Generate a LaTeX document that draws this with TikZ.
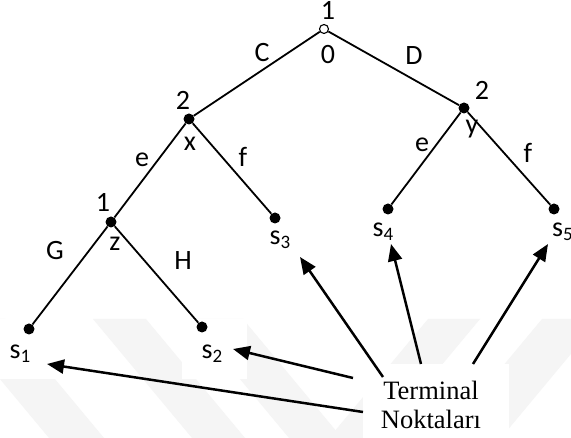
\documentclass[tikz,border=0pt]{standalone}
\usepackage{fontspec}
\setmainfont{Carlito}
\newfontfamily\tnrfont{Liberation Serif}
\usetikzlibrary{arrows.meta}
\newcommand\ssub[1]{\raisebox{-4pt}{\fontsize{19}{19}\selectfont #1}}
\begin{document}
\begin{tikzpicture}[x=1pt,y=-1pt,
  dot/.style={circle,fill=black,inner sep=0pt,minimum size=11pt},
  odot/.style={circle,draw=black,fill=white,line width=1.1pt,inner sep=0pt,minimum size=9pt},
  treeedge/.style={line width=1.8pt},
  lab/.style={font=\fontsize{28}{28}\selectfont,inner sep=0pt},
  arr/.style={line width=2.5pt,-{Triangle[length=17pt,width=14pt]}},
  wm/.style={fill=black!4,draw=none},
  wbox/.style={fill=white,draw=none}]
\useasboundingbox (0,0) rectangle (571,438);
\fill[white] (0,0) rectangle (571,438);
% watermark bands
\fill[wm] (93,319) -- (146,319) -- (245,438) -- (192,438) -- cycle;
\fill[wm] (190,319) -- (243,319) -- (342,438) -- (289,438) -- cycle;
\fill[wm] (-50,319) -- (5,319) -- (104,438) -- (49,438) -- cycle;
\fill[wm] (428,319) -- (480,319) -- (381,438) -- (329,438) -- cycle;
\fill[wm] (542,319) -- (600,319) -- (501,438) -- (443,438) -- cycle;
% white boxes behind labels
\fill[wbox] (0,319) rectangle (58,379);
\fill[wbox] (182,319) rectangle (247,379);
% tree nodes
\node[odot] (r) at (324,29) {};
\node[dot] (x) at (189,119) {};
\node[dot] (y) at (464,108) {};
\node[dot] (z) at (111,222) {};
\node[dot] (s1) at (29,329) {};
\node[dot] (s2) at (202,327) {};
\node[dot] (s3) at (275,218) {};
\node[dot] (s4) at (388,209) {};
\node[dot] (s5) at (554,209) {};
% edges
\draw[treeedge] (r) -- (x);
\draw[treeedge] (r) -- (y);
\draw[treeedge] (x) -- (z);
\draw[treeedge] (x) -- (s3);
\draw[treeedge] (y) -- (s4);
\draw[treeedge] (y) -- (s5);
\draw[treeedge] (z) -- (s1);
\draw[treeedge] (z) -- (s2);
% labels
\node[lab] (lr1) at (328,10.5) {1};
\node[lab] (lr0) at (328,55) {0};
\node[lab] (lC) at (262,53) {C};
\node[lab] (lD) at (414,56) {D};
\node[lab] (lx2) at (183,100) {2};
\node[lab] (lx) at (190,144) {x};
\node[lab] (le1) at (142,160) {e};
\node[lab] (lf1) at (243,157) {f};
\node[lab] (ly2) at (482,90) {2};
\node[lab] (ly) at (472,129) {y};
\node[lab] (le2) at (422,145) {e};
\node[lab] (lf2) at (528,153) {f};
\node[lab] (lz1) at (103,202) {1};
\node[lab] (lz) at (115,244) {z};
\node[lab] (lG) at (55,251) {G};
\node[lab] (lH) at (183,261) {H};
\node[lab] (ls1) at (20,354) {s\ssub{1}};
\node[lab] (ls2) at (212,354) {s\ssub{2}};
\node[lab] (ls3) at (280,240) {s\ssub{3}};
\node[lab] (ls4) at (383,232) {s\ssub{4}};
\node[lab,anchor=west] (ls5) at (552,232) {s\ssub{5}};
% terminal box
\node[wbox,minimum width=146pt,minimum height=74pt,inner sep=0pt] (tb) at (436,401) {};
\node[font=\tnrfont\fontsize{26.5}{29}\selectfont,align=center,inner sep=0pt] (tt) at (431,405) {Terminal\\Noktaları};
% arrow coordinates
\coordinate (t1) at (363,412); \coordinate (h1) at (47,364);
\coordinate (t2) at (353,378); \coordinate (h2) at (233,349);
\coordinate (t3) at (383,377); \coordinate (h3) at (300,257);
\coordinate (t4) at (421,364); \coordinate (h4) at (391,244);
\coordinate (t5) at (473,364); \coordinate (h5) at (548,244);
\draw[arr] (t1) -- (h1);
\draw[arr] (t2) -- (h2);
\draw[arr] (t3) -- (h3);
\draw[arr] (t4) -- (h4);
\draw[arr] (t5) -- (h5);
\end{tikzpicture}
\end{document}
